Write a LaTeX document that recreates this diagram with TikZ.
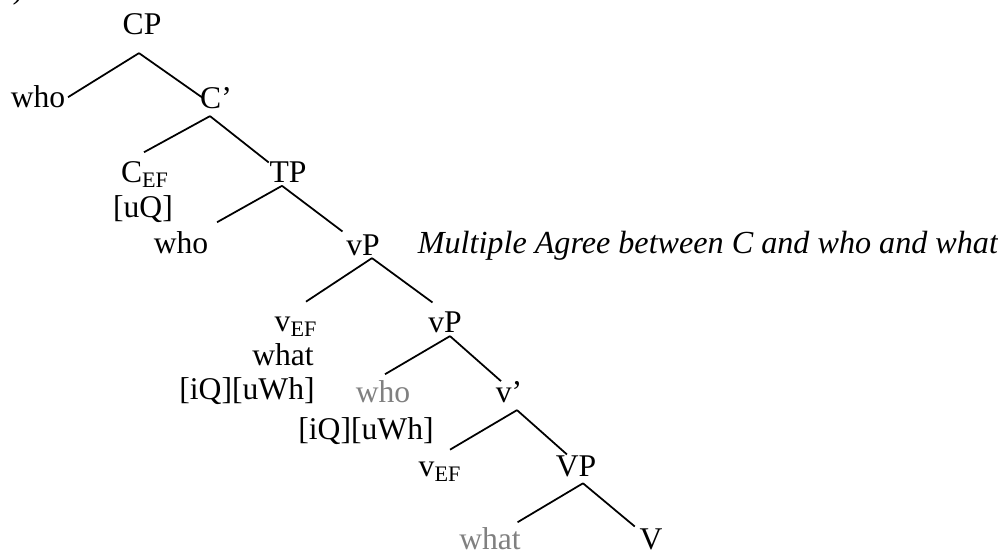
\documentclass[tikz,border=0pt]{standalone}
\usepackage{fontspec}
\setmainfont{Liberation Serif}
\definecolor{trace}{gray}{0.5}
\tikzset{every node/.style={inner sep=1.1pt,anchor=base,font=\fontsize{18}{21.6}\selectfont}}

\begin{document}
\begin{tikzpicture}[x=0.02cm,y=-0.02cm,line width=1pt]
\useasboundingbox (0,0) rectangle (998,550);
      \node (paren) at (18,-1) {)};
      \node (CP) at (142,35) {CP};
      \node (who1) at (38,108) {who};
      \node (Cbar) at (216,109) {C’};
      \node (Cef) at (145,183) {C\textsubscript{EF}};
      \node (uQ) at (143,218) {[uQ]};
      \node (TP) at (288,183) {TP};
      \node (who2) at (181,254) {who};
      \node (vP1) at (363,256) {vP};
      \node[anchor=base west] (agree) at (415,254) {\fontsize{18.3}{22}\selectfont\itshape Multiple Agree between C and who and what};
      \node (vef1) at (296,332) {v\textsubscript{EF}};
      \node (what1) at (283,366) {what};
      \node (iQ1) at (247,400) {[iQ][uWh]};
      \node (vP2) at (445,333) {vP};
      \node[text=trace] (whoT) at (383,403) {who};
      \node (vbar) at (509,403) {v’};
      \node (iQ2) at (366,440) {[iQ][uWh]};
      \node (vef2) at (440,477) {v\textsubscript{EF}};
      \node (VP) at (576,477) {VP};
      \node[text=trace] (whatT) at (490,550) {what};
      \node (V) at (651,550) {V};

% branches: parent, shift below parent, child, anchor, shift at child
\foreach \p/\px/\py/\c/\ca/\cx/\cy in {
    CP/-3/15/who1/east/0/0,
    CP/-3/15/Cbar/west/5/-1,
    Cbar/-6/4/Cef/north/-1/-7,
    Cbar/-6/4/TP/north west/2/3,
    TP/-6/0/who2/north east/6/-7,
    TP/-6/0/vP1/north west/-1/-1,
    vP1/9/-1/vef1/north/10/-13,
    vP1/9/-1/vP2/north west/7/-7,
    vP2/5/0/whoT/north/2/-4,
    vP2/5/0/vbar/north west/8/2,
    vbar/8/4/vef2/north/10/-10,
    vbar/8/4/VP/north west/14/1,
    VP/7/3/whatT/north east/-6/-3,
    VP/7/3/V/north west/-2/0}
  \draw ([shift={(\px,\py)}]\p.south) -- ([shift={(\cx,\cy)}]\c.\ca);
\end{tikzpicture}
\end{document}
